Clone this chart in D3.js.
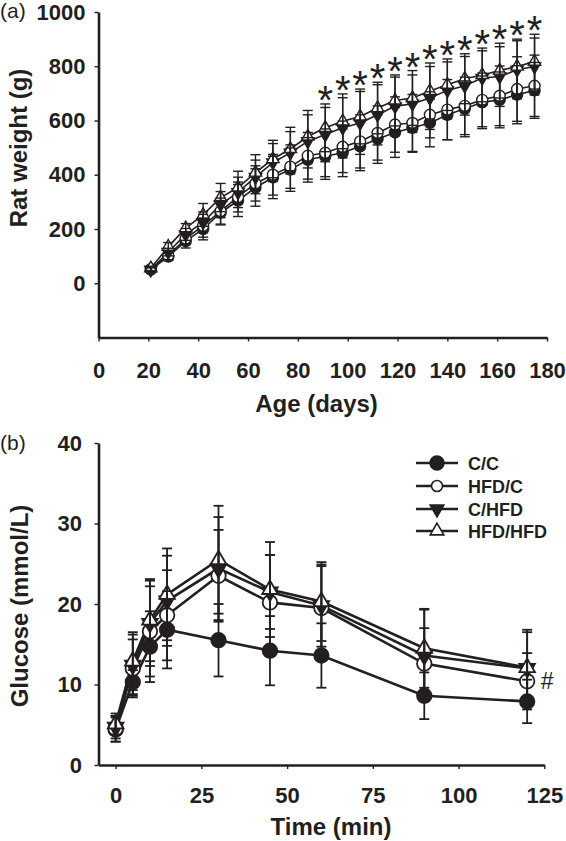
<!DOCTYPE html>
<html><head><meta charset="utf-8">
<script src="https://cdn.jsdelivr.net/npm/d3@7"></script>
<style>
body{margin:0;background:#fff}
svg{display:block}
text{font-family:"Liberation Sans",Arial,Helvetica,sans-serif;fill:#231f20}
</style>
</head><body>
<svg id="c" width="566" height="841"></svg>
<script>
// ---------- DATA: panel (a) body weight ----------
const days = [21,28,35,42,49,56,63,70,77,84,91,98,105,112,119,126,133,140,147,154,161,168,175];
const wCC   = [50, 98,155,200,260,305,353,390,419,455,468,481,505,532,556,573,591,621,643,667,676,695,711];
const wHFDC = [52,102,165,212,266,318,368,400,430,470,481,503,523,554,585,591,621,640,654,676,691,716,728];
const wCHFD = [50,115,180,225,290,335,392,445,481,523,548,573,591,621,652,662,683,711,728,757,762,787,799];
const wHH   = [55,135,203,252,316,353,408,458,495,541,573,597,615,646,674,683,709,732,754,768,784,799,817];
const sdCC   = [8,14,25,40,45,59,69,78,80,82,85,88,90,90,92,90,88,92,103,97,103,107,103];
const sdHFDC = [8,15,22,42,48,55,65,75,80,86,88,95,98,100,102,105,85,111,106,99,110,119,113];
const sdCHFD = [7,14,22,38,48,56,62,70,78,98,100,111,116,111,108,106,116,105,108,100,110,107,105];
const sdHH   = [8,15,17,42,52,60,66,69,80,96,88,101,101,95,94,101,103,95,92,99,101,101,101];
const sigDays = [91,98,105,112,119,126,133,140,147,154,161,168,175];
const xTicksA = [0,20,40,60,80,100,120,140,160,180];
const yTicksA = [0,200,400,600,800,1000];

// ---------- DATA: panel (b) glucose ----------
const times = [0,5,10,15,30,45,60,90,120];
const gCC   = [4.4,10.3,14.7,16.8,15.5,14.2,13.6,8.6,7.9];
const gHFDC = [4.5,12.0,16.6,18.6,23.5,20.2,19.5,12.6,10.4];
const gCHFD = [4.7,12.4,17.6,20.4,24.4,21.5,19.8,13.6,12.0];
const gHH   = [5.1,12.9,18.0,21.2,25.5,21.8,20.3,14.5,12.1];
const gsdCC   = [1.5,1.5,4.4,4.8,4.5,4.3,4.0,2.9,2.7];
const gsdHFDC = [1.6,3.6,5.6,5.6,5.7,5.9,5.2,4.4,3.5];
const gsdCHFD = [1.4,3.8,5.3,5.6,6.4,4.6,5.1,5.7,4.5];
const gsdHH   = [1.3,3.6,5.1,5.7,6.7,5.9,4.9,4.9,4.7];
const xTicksB = [0,25,50,75,100,125];
const yTicksB = [0,10,20,30,40];
const legendNames = ["C/C","HFD/C","C/HFD","HFD/HFD"];

// ---------- DRAWING ----------
const INK = "#231f20";
const svg = d3.select("#c");

function markerPath(g, type, size, sw){
  let p;
  if (type === "fc" || type === "oc") p = g.append("path").attr("d", d3.symbol(d3.symbolCircle, size)());
  else p = g.append("path").attr("d", d3.symbol(d3.symbolTriangle, size)());
  if (type === "ft") p.attr("transform", "rotate(180)");
  const filled = (type === "fc" || type === "ft");
  p.attr("fill", filled ? INK : "#fff").attr("stroke", INK).attr("stroke-width", sw);
  return p;
}

function styleAxis(g, fs){
  g.select(".domain").attr("stroke", INK).attr("stroke-width", 2.6);
  g.selectAll(".tick line").attr("stroke", INK).attr("stroke-width", 1.4);
  g.selectAll(".tick text").attr("font-size", fs).attr("font-weight", "bold").style("fill", INK).attr("font-family", '"Liberation Sans",Arial,sans-serif');
}

function drawSeries(x, y, xs, series, o){
  const line = d3.line().x((d,i)=>x(xs[i])).y(d=>y(d));
  const gl = svg.append("g");
  series.forEach(s=>{
    gl.append("path").datum(s.v).attr("d", line).attr("fill","none")
      .attr("stroke", INK).attr("stroke-width", o.lw);
  });
  const gm = svg.append("g");
  series.forEach(s=>{
    s.v.forEach((v,i)=>{
      const g = gm.append("g").attr("transform", `translate(${x(xs[i])},${y(v)})`);
      markerPath(g, s.type, s.type[1]==="c" ? o.cs : o.ts, o.msw);
    });
  });
  const ge = svg.append("g").attr("stroke", INK).attr("stroke-width", o.ew);
  series.forEach(s=>{
    s.v.forEach((v,i)=>{
      const cx = x(xs[i]), y1 = y(v - s.sd[i]), y2 = y(v + s.sd[i]);
      ge.append("line").attr("x1",cx).attr("x2",cx).attr("y1",y1).attr("y2",y2);
      ge.append("line").attr("x1",cx-o.cap).attr("x2",cx+o.cap).attr("y1",y1).attr("y2",y1);
      ge.append("line").attr("x1",cx-o.cap).attr("x2",cx+o.cap).attr("y1",y2).attr("y2",y2);
    });
  });
}

// ----- Panel (a) -----
const xa = d3.scaleLinear().domain([0,180]).range([98.5,547]);
const ya = d3.scaleLinear().domain([-200,1000]).range([337.5,12]);
const seriesA = [
  {v:wCC,   sd:sdCC,   type:"fc"},
  {v:wHFDC, sd:sdHFDC, type:"oc"},
  {v:wCHFD, sd:sdCHFD, type:"ft"},
  {v:wHH,   sd:sdHH,   type:"ot"}
];
drawSeries(xa, ya, days, seriesA, {lw:1.6, cs:95, ts:66, msw:1.4, ew:1.4, cap:5});

const gxa = svg.append("g").attr("transform","translate(0,337.5)")
  .call(d3.axisBottom(xa).tickValues(xTicksA).tickFormat(d3.format("d")).tickSize(4).tickSizeOuter(0).tickPadding(21));
styleAxis(gxa, 22);
const gya = svg.append("g").attr("transform","translate(98.5,0)")
  .call(d3.axisLeft(ya).tickValues(yTicksA).tickFormat(d3.format("d")).tickSize(4).tickSizeOuter(0).tickPadding(9));
styleAxis(gya, 22);

// asterisks
svg.append("g").selectAll("text").data(sigDays).join("text")
  .attr("x", d=>xa(d)).attr("text-anchor","middle")
  .attr("y", d=>{
    const i = days.indexOf(d);
    const top = d3.max(seriesA, s=>s.v[i]+s.sd[i]);
    return ya(top) - 13 + 0.58*40;
  })
  .attr("font-size",40).text("*");

svg.append("text").attr("x",0).attr("y",18).attr("font-size",21).text("(a)");
svg.append("text").attr("transform","translate(26.5,148) rotate(-90)").attr("text-anchor","middle")
  .attr("font-size",24).attr("font-weight","bold").text("Rat weight (g)");
svg.append("text").attr("x",316.5).attr("y",412).attr("text-anchor","middle")
  .attr("font-size",24).attr("font-weight","bold").text("Age (days)");

// ----- Panel (b) -----
const xb = d3.scaleLinear().domain([-5,125]).range([98.5,544.3]);
const yb = d3.scaleLinear().domain([0,40]).range([765,443]);
const seriesB = [
  {v:gCC,   sd:gsdCC,   type:"fc"},
  {v:gHFDC, sd:gsdHFDC, type:"oc"},
  {v:gCHFD, sd:gsdCHFD, type:"ft"},
  {v:gHH,   sd:gsdHH,   type:"ot"}
];
drawSeries(xb, yb, times, seriesB, {lw:2.6, cs:165, ts:105, msw:1.8, ew:1.8, cap:5});

const gxb = svg.append("g").attr("transform","translate(0,765)")
  .call(d3.axisBottom(xb).tickValues(xTicksB).tickSize(4).tickSizeOuter(0).tickPadding(18.5));
styleAxis(gxb, 22);
const gyb = svg.append("g").attr("transform","translate(98.5,0)")
  .call(d3.axisLeft(yb).tickValues(yTicksB).tickSize(4).tickSizeOuter(0).tickPadding(12.5));
styleAxis(gyb, 22);

svg.append("text").attr("x",0).attr("y",450).attr("font-size",21).text("(b)");
svg.append("text").attr("transform","translate(27.5,606) rotate(-90)").attr("text-anchor","middle")
  .attr("font-size",24).attr("font-weight","bold").text("Glucose (mmol/L)");
svg.append("text").attr("x",331).attr("y",835).attr("text-anchor","middle")
  .attr("font-size",24).attr("font-weight","bold").text("Time (min)");

// "#" next to last HFD/C point
svg.append("text").attr("x", xb(times[times.length-1]) + 20).attr("y", yb(gHFDC[gHFDC.length-1]) + 7.5)
  .attr("text-anchor","middle").attr("font-size",23).text("#");

// legend
const legY = [463,486,509,531];
const lg = svg.append("g");
seriesB.forEach((s,i)=>{
  const g = lg.append("g").attr("transform",`translate(0,${legY[i]})`);
  g.append("line").attr("x1",416).attr("x2",458).attr("stroke",INK).attr("stroke-width",2.6);
  const m = g.append("g").attr("transform","translate(437,0)");
  const sz = s.type==="fc" ? 150 : s.type==="oc" ? 95 : 80;
  markerPath(m, s.type, sz, 1.6);
  g.append("text").attr("x",468).attr("y",6.5).attr("font-size",18).attr("font-weight","bold").text(legendNames[i]);
});
</script>
</body></html>
